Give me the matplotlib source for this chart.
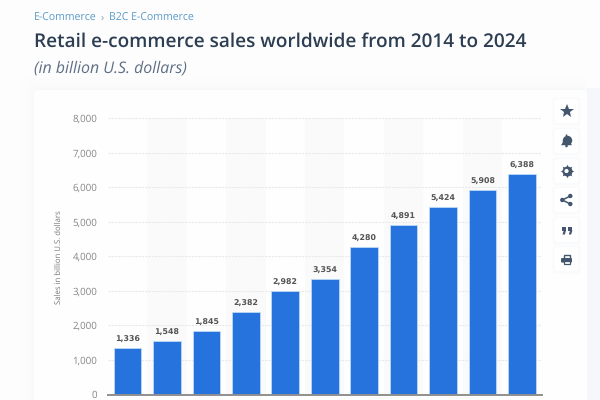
import matplotlib
matplotlib.use("Agg")
import matplotlib.pyplot as plt
from matplotlib.patches import FancyBboxPatch, Rectangle, Circle, Polygon

plt.rcParams['font.family'] = ['Open Sans', 'DejaVu Sans']
plt.rcParams['text.hinting'] = 'none'

years = list(range(2014, 2025))
sales = [1336, 1548, 1845, 2382, 2982, 3354, 4280, 4891, 5424, 5908, 6388]
W, H = 600, 400

fig = plt.figure(figsize=(6, 4), dpi=100, facecolor='#fdfdfe')

# page layer in pixel coordinates, y pointing down
bg = fig.add_axes([0, 0, 1, 1])
bg.set_xlim(0, W)
bg.set_ylim(H, 0)
bg.axis('off')

# soft shadow then card
bg.add_patch(Rectangle((587, 88), 13, 320, fc='#f6f7fa', ec='none'))
for grow, col in [(12, '#fcfcfd'), (7, '#fbfbfc'), (3, '#f9fafb'), (1, '#f7f8fa')]:
    bg.add_patch(FancyBboxPatch((34 - grow, 90 - grow), 553 + grow, 330,
                                boxstyle='round,pad=0,rounding_size=4', fc=col, ec='none'))
bg.add_patch(FancyBboxPatch((34, 90), 553, 330, boxstyle='round,pad=0,rounding_size=3',
                            fc='#fefefe', ec='none'))

bg.text(34, 18.5, 'E-Commerce', color='#5a9bc9', fontsize=7.6, va='center')
bg.text(101, 17.5, '›', color='#7f9db3', fontsize=7.6, va='center')
bg.text(109, 18.5, 'B2C E-Commerce', color='#5a9bc9', fontsize=7.6, va='center')
bg.text(34, 41.5, 'Retail e-commerce sales worldwide from 2014 to 2024', color='#2d3e52',
        fontsize=13.7, va='center', fontweight='semibold')
bg.text(34, 68, '(in billion U.S. dollars)', color='#5f6f84', fontsize=11.4, va='center',
        style='italic')

# side buttons
icon = '#43566e'
btn_y = [111, 141, 171, 200, 230, 259]
for y in btn_y:
    for grow, col in [(2.5, '#fcfcfd'), (1.2, '#f9fafb')]:
        bg.add_patch(FancyBboxPatch((554.5 - grow, y - 12 - grow + 0.5), 24 + 2 * grow, 24 + 2 * grow,
                                    boxstyle='round,pad=0,rounding_size=4', fc=col, ec='none'))
    bg.add_patch(FancyBboxPatch((554.5, y - 12), 24, 24, boxstyle='round,pad=0,rounding_size=3',
                                fc='white', ec='none'))
bg.plot(566.5, 110.5, marker='*', ms=10.5, color=icon, mew=0)
# bell
bg.plot(566.5, 139.5, marker='o', ms=6.8, color=icon, mew=0)
bg.add_patch(Polygon([(563.2, 140), (569.8, 140), (570.5, 143), (572, 145.2), (561, 145.2), (562.5, 143)],
                     fc=icon, ec='none'))
bg.add_patch(Circle((566.5, 146), 1.3, fc=icon, ec='none'))
bg.add_patch(Circle((566.5, 135.3), 0.9, fc=icon, ec='none', zorder=3))
# cog
bg.plot(566.5, 171, marker=(8, 1, 0), ms=10, color=icon, mew=0)
bg.plot(566.5, 171, marker='o', ms=7.2, color=icon, mew=0)
bg.add_patch(Circle((566.5, 171), 2.1, fc='white', ec='none', zorder=3))
# share
pts = [(562.3, 200), (570.3, 196), (570.3, 204)]
bg.plot([pts[1][0], pts[0][0], pts[2][0]], [pts[1][1], pts[0][1], pts[2][1]], color=icon, lw=1.1)
for p in pts:
    bg.add_patch(Circle(p, 2.2, fc=icon, ec='none', zorder=3))
# quote
for qx in [561.5, 567.8]:
    bg.add_patch(Rectangle((qx, 226.5), 4.6, 4, fc=icon, ec='none'))
    bg.add_patch(Polygon([(qx + 2.4, 230), (qx + 4.6, 230), (qx + 3.4, 234.5), (qx + 1, 234.5)],
                         fc=icon, ec='none'))
# print
bg.add_patch(Rectangle((563.5, 254.5), 6, 4, fc='white', ec=icon, lw=1))
bg.add_patch(FancyBboxPatch((561, 258), 11, 4.6, boxstyle='round,pad=0,rounding_size=1.2',
                            fc=icon, ec='none'))
bg.add_patch(Rectangle((563.5, 261), 6, 3, fc='white', ec=icon, lw=0.9))

# chart
left, right, top, bottom = 107.7, 541.7, 118, 394.5
ax = fig.add_axes([left / W, 1 - bottom / H, (right - left) / W, (bottom - top) / H])
ax.patch.set_alpha(0)
ax.set_xlim(-0.5, 10.5)
ax.set_ylim(0, 8000)

for i in range(1, len(years), 2):
    ax.axvspan(i - 0.5, i + 0.5, color='#fafafa', lw=0, zorder=0)

ax.yaxis.grid(True, color='#e9e9e9', lw=0.8, ls=(0, (2, 1)), zorder=1)
ax.set_axisbelow(True)

ax.bar(range(len(years)), sales, width=0.7, color='#2673dd', edgecolor='#c5e0f7', lw=0.5, zorder=3)
for i, v in enumerate(sales):
    ax.text(i, v + 130, f'{v:,}', ha='center', va='bottom', fontsize=5.7, fontweight='bold',
            family='DejaVu Sans', color='#555555', zorder=4)

for s in ['top', 'right', 'left']:
    ax.spines[s].set_visible(False)
ax.spines['bottom'].set_color('#8f8f8f')
ax.spines['bottom'].set_linewidth(1.4)
ax.spines['bottom'].set_zorder(5)
ax.set_xticks([])
ax.set_yticks(range(0, 8001, 1000))
ax.set_yticklabels([f'{v:,}' for v in range(0, 8001, 1000)])
ax.tick_params(axis='y', length=0, pad=7.6, labelsize=7, labelcolor='#858585')
ax.set_ylabel('Sales in billion U.S. dollars', fontsize=5.6, color='#777777', labelpad=2)
ax.yaxis.set_label_coords((63 - left) / (right - left), (394.5 - 257) / (bottom - top))

fig.savefig('out.png', dpi=100, facecolor=fig.get_facecolor())
